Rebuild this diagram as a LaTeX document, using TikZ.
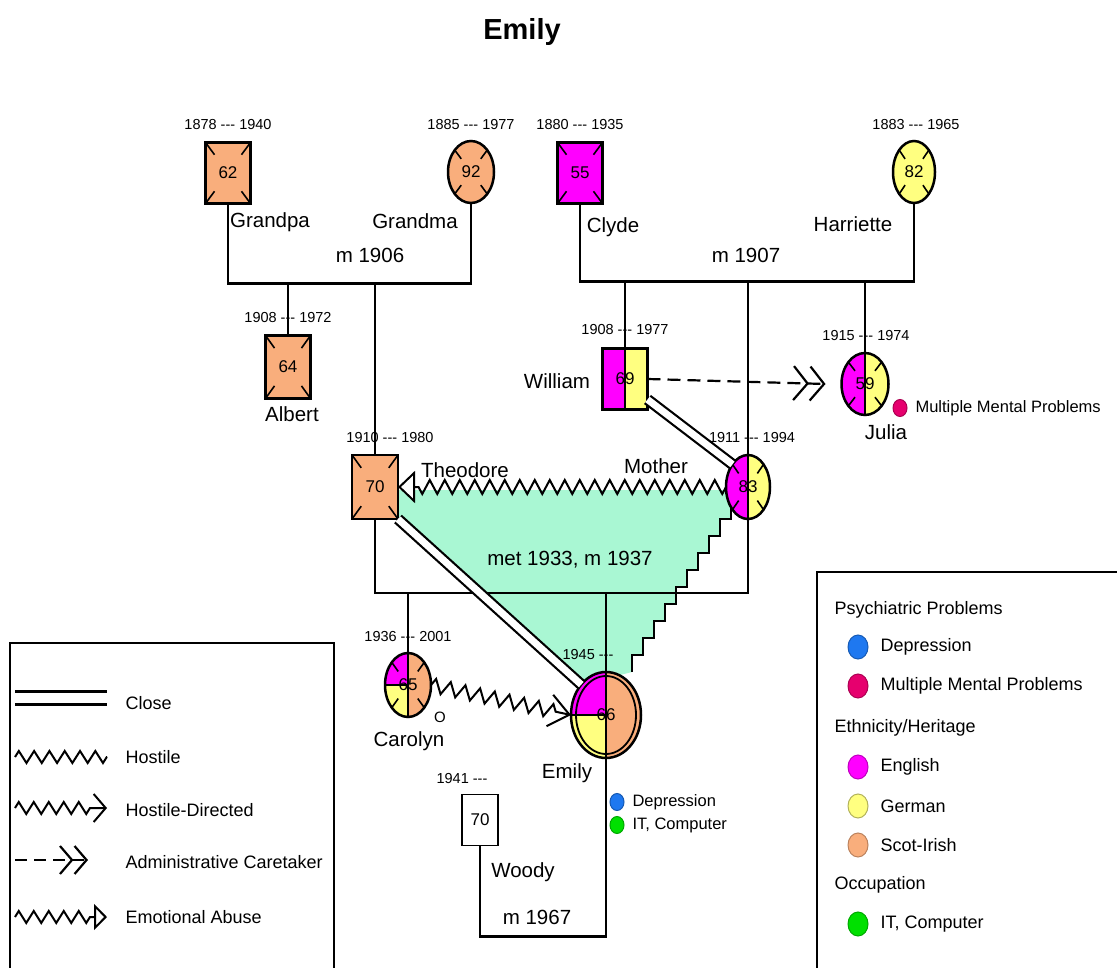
\documentclass[tikz,border=0pt]{standalone}
\usepackage{fontspec}
\setmainfont{Liberation Sans}
\usetikzlibrary{shapes.geometric,arrows.meta,decorations.pathmorphing,calc,backgrounds}
\definecolor{english}{HTML}{FF00FF}
\definecolor{german}{HTML}{FFFF80}
\definecolor{scotirish}{HTML}{F9AE7C}
\definecolor{fused}{HTML}{A9F7D3}
\definecolor{depress}{HTML}{1E78F0}
\definecolor{mental}{HTML}{E6006E}
\definecolor{itjob}{HTML}{00E000}
\newcommand{\fsize}[1]{\fontsize{#1}{#1}\selectfont}
\newcommand{\life}[2]{#1 -\kern0pt-\kern0pt- #2}

\begin{document}
\begin{tikzpicture}[x=1pt, y=-1pt,
		male/.style={draw, rectangle, line width=2.5pt, minimum width=45pt, minimum height=61pt, inner sep=0pt, outer sep=0pt, font=\fsize{17}},
		female/.style={draw, ellipse, line width=2.5pt, minimum width=45pt, minimum height=63pt, inner sep=0pt, outer sep=0pt, font=\fsize{17}},
		halves/.style 2 args={path picture={
				\fill[#1] (path picture bounding box.north west) rectangle (path picture bounding box.south);
				\fill[#2] (path picture bounding box.north) rectangle (path picture bounding box.south east);
				\draw[line width=1.6pt] (path picture bounding box.north) -- (path picture bounding box.south);}},
		quarters/.style n args={3}{path picture={
				\fill[#1] (path picture bounding box.north west) rectangle (path picture bounding box.center);
				\fill[#2] (path picture bounding box.west) rectangle (path picture bounding box.south);
				\fill[#3] (path picture bounding box.north) rectangle (path picture bounding box.south east);
				\draw[line width=1.6pt] (path picture bounding box.north) -- (path picture bounding box.south);
				\draw[line width=1.6pt] (path picture bounding box.west) -- (path picture bounding box.center);}},
		years/.style={font=\fsize{14.5}},
		pname/.style={font=\fsize{20.5}},
		famline/.style={line width=2.2pt},
		closerel/.style={double, double distance=7pt, line width=2.2pt},
		hostile/.style={line width=2pt, decorate, decoration={zigzag, segment length=15pt, amplitude=7pt}},
		dot/.style={ellipse, minimum width=20pt, minimum height=24pt, inner sep=0pt, line width=1pt},
		legtext/.style={font=\fsize{18}, anchor=west}
	]
	\useasboundingbox (0,0) rectangle (1117,968);

	\node[font=\bfseries\fsize{29}] (title) at (522,32) {Emily};

	% people
	\node[male, fill=scotirish] (gpa) at (228,173) {62};
	\node[female, fill=scotirish, minimum width=46pt, minimum height=62pt] (gma) at (471,172) {92};
	\node[male, fill=english] (clyde) at (580,173) {55};
	\node[female, fill=german, minimum width=42pt, minimum height=62pt] (harriette) at (914,172) {82};
	\node[male, fill=scotirish, minimum height=63pt] (albert) at (288,367) {64};
	\node[male, fill=scotirish, minimum width=46pt, minimum height=64pt] (theo) at (375,487) {70};
	\node[male, halves={english}{german}] (william) at (625,379) {69};
	\node[female, halves={english}{german}, minimum width=47pt, minimum height=62pt] (julia) at (865,384) {59};
	\node[female, halves={english}{german}, minimum width=44pt, minimum height=64pt] (mother) at (748,487) {83};
	\node[female, quarters={english}{german}{scotirish}, minimum width=46pt, minimum height=64pt] (carolyn) at (408,685) {65};
	\node[female, quarters={english}{german}{scotirish}, minimum width=70pt, minimum height=86pt] (emily) at (606,715) {66};
	\draw[line width=1.8pt] (emily.center) ellipse [x radius=30pt, y radius=39pt];
	\node[male, fill=white, line width=1.8pt, minimum width=36pt, minimum height=51pt] (woody) at (480,820) {70};

	\foreach \p in {gpa,gma,clyde,harriette,albert,theo,julia,mother,carolyn}
		\foreach \c in {north east,north west,south east,south west}
			\draw[line width=1.6pt] (\p.\c) -- ($(\p.center)!0.6!(\p.\c)$);

	% families
	\draw[famline] (gpa.south) -- ++(0,80) coordinate (m1906) -| (gma.south);
	\draw[famline] (albert.north) -- (albert.north |- m1906);
	\draw[famline] (theo.north) -- (theo.north |- m1906);
	\draw[famline] (clyde.south) -- ++(0,78) coordinate (m1907) -| (harriette.south);
	\draw[famline] (william.north) -- (william.north |- m1907);
	\draw[famline] (mother.north) -- (mother.north |- m1907);
	\draw[famline] (julia.north) -- (julia.north |- m1907);
	\draw[famline] (theo.south) -- ++(0,74) coordinate (m1937) -| (mother.south);
	\draw[famline] (carolyn.north) -- (carolyn.north |- m1937);
	\draw[famline] (emily.north) -- (emily.north |- m1937);
	\draw[famline] (woody.south) -- ++(0,91) -| (emily.south);

	% relationships
	\begin{scope}[on background layer]
		\fill[fused] (399,490) -- (727,490) -- (742,502) \foreach \i in {1,...,10} { -- ++(-11,0) -- ++(0,17) } -- (600,680) -- (583,686) -- (398,519) -- cycle;
		\draw[line width=1.8pt] (742,502) \foreach \i in {1,...,10} { -- ++(-11,0) -- ++(0,17) };
	\end{scope}
	\draw[closerel] ([yshift=10pt]william.south east) -- (mother.north west);
	\draw[closerel] (theo.south east) -- (emily.north west);
	\draw[line width=2.2pt, dash pattern=on 13pt off 7pt, -{Straight Barb[length=14pt,width=34pt] Straight Barb[length=14pt,width=34pt]}] (william.east) -- ([xshift=-16pt]julia.west);
	\draw[hostile, decoration={post length=20pt}, -{Triangle[length=17pt,width=32pt,fill=white]}] (mother.west) -- (theo.east);
	\draw[hostile, decoration={post length=14pt}, -{Straight Barb[length=20pt,width=32pt]}] (carolyn.east) -- (emily.west);

	% dates and names
	\node[years] (gpa-y) at (228,125) {\life{1878}{1940}};
	\node[years] (gma-y) at (471,125) {\life{1885}{1977}};
	\node[years] (clyde-y) at (580,125) {\life{1880}{1935}};
	\node[years] (harriette-y) at (916,125) {\life{1883}{1965}};
	\node[years] (albert-y) at (288,318) {\life{1908}{1972}};
	\node[years] (theo-y) at (390,438) {\life{1910}{1980}};
	\node[years] (william-y) at (625,330) {\life{1908}{1977}};
	\node[years] (julia-y) at (866,336) {\life{1915}{1974}};
	\node[years] (mother-y) at (752,438) {\life{1911}{1994}};
	\node[years] (carolyn-y) at (408,637) {\life{1936}{2001}};
	\node[years] (emily-y) at (588,655) {1945 -\kern0pt-\kern0pt-};
	\node[years] (woody-y) at (462,779) {1941 -\kern0pt-\kern0pt-};

	\node[pname] (gpa-n) at (270,222) {Grandpa};
	\node[pname] (gma-n) at (415,221) {Grandma};
	\node[pname] (m1906-t) at (370,255) {m 1906};
	\node[pname] (clyde-n) at (613,227) {Clyde};
	\node[pname] (harriette-n) at (853,224) {Harriette};
	\node[pname] (m1907-t) at (746,255) {m 1907};
	\node[pname] (albert-n) at (292,414) {Albert};
	\node[pname] (william-n) at (557,381) {William};
	\node[pname] (julia-n) at (886,432) {Julia};
	\node[pname] (theo-n) at (465,470) {Theodore};
	\node[pname] (mother-n) at (656,466) {Mother};
	\node[pname] (m1937-t) at (570,560) {met 1933, m 1937};
	\node[pname] (carolyn-n) at (409,741) {Carolyn};
	\node[font=\fsize{15}] (carolyn-o) at (440,717) {O};
	\node[pname] (emily-n) at (567,773) {Emily};
	\node[pname] (woody-n) at (523,872) {Woody};
	\node[pname] (m1967-t) at (537,917) {m 1967};

	\node[dot, minimum width=14pt, minimum height=17pt, fill=mental, draw=mental!75!black] (julia-d) at (900,408) {};
	\node[font=\fsize{16.5}, anchor=west] (julia-dt) at (912,408) {Multiple Mental Problems};
	\node[dot, minimum width=14pt, minimum height=17pt, fill=depress, draw=depress!75!black] (emily-d1) at (617,802) {};
	\node[font=\fsize{16.5}, anchor=west] (emily-d1t) at (629,802) {Depression};
	\node[dot, minimum width=14pt, minimum height=17pt, fill=itjob, draw=itjob!75!black] (emily-d2) at (617,825) {};
	\node[font=\fsize{16.5}, anchor=west] (emily-d2t) at (629,825) {IT, Computer};

	% legend, relations
	\draw[line width=2.2pt] (10,968) -- (10,643) -- (334,643) -- (334,968);
	\coordinate (k1a) at (15,698); \coordinate (k1b) at (107,698);
	\coordinate (k2a) at (15,757); \coordinate (k2b) at (107,757);
	\coordinate (k3a) at (15,808); \coordinate (k3b) at (107,808);
	\coordinate (k4a) at (15,860); \coordinate (k4b) at (88,860);
	\coordinate (k5a) at (15,917); \coordinate (k5b) at (107,917);
	\draw[closerel, double distance=10pt, line width=3.2pt] (k1a) -- (k1b);
	\draw[hostile, decoration={segment length=15.3pt, amplitude=6pt}] (k2a) -- (k2b);
	\draw[hostile, decoration={amplitude=6pt, post length=10pt}, -{Straight Barb[length=12pt,width=28pt]}] (k3a) -- (k3b);
	\draw[line width=2.2pt, dash pattern=on 12pt off 7pt, -{Straight Barb[length=12pt,width=28pt] Straight Barb[length=12pt,width=28pt]}] (k4a) -- (k4b);
	\draw[hostile, decoration={amplitude=6pt, post length=12pt}, -{Triangle[length=13pt,width=26pt,fill=white]}] (k5a) -- (k5b);
	\node[legtext] (k1) at (122,703) {Close};
	\node[legtext] (k2) at (122,757) {Hostile};
	\node[legtext] (k3) at (122,810) {Hostile-Directed};
	\node[legtext] (k4) at (122,862) {Administrative Caretaker};
	\node[legtext] (k5) at (122,917) {Emotional Abuse};

	% legend, attributes
	\draw[line width=2.2pt] (1117,572) -- (817,572) -- (817,968);
	\node[legtext] (h1) at (831,610) {Psychiatric Problems};
	\node[dot, fill=depress, draw=depress!75!black] (a1) at (858,647) {};
	\node[legtext] (a1t) at (877,647) {Depression};
	\node[dot, fill=mental, draw=mental!75!black] (a2) at (858,686) {};
	\node[legtext] (a2t) at (877,686) {Multiple Mental Problems};
	\node[legtext] (h2) at (831,728) {Ethnicity/Heritage};
	\node[dot, fill=english, draw=english!75!black] (a3) at (858,767) {};
	\node[legtext] (a3t) at (877,767) {English};
	\node[dot, fill=german, draw=german!70!black] (a4) at (858,806) {};
	\node[legtext] (a4t) at (877,806) {German};
	\node[dot, fill=scotirish, draw=scotirish!75!black] (a5) at (858,845) {};
	\node[legtext] (a5t) at (877,845) {Scot-Irish};
	\node[legtext] (h3) at (831,885) {Occupation};
	\node[dot, fill=itjob, draw=itjob!75!black] (a6) at (858,924) {};
	\node[legtext] (a6t) at (877,924) {IT, Computer};
\end{tikzpicture}
\end{document}
